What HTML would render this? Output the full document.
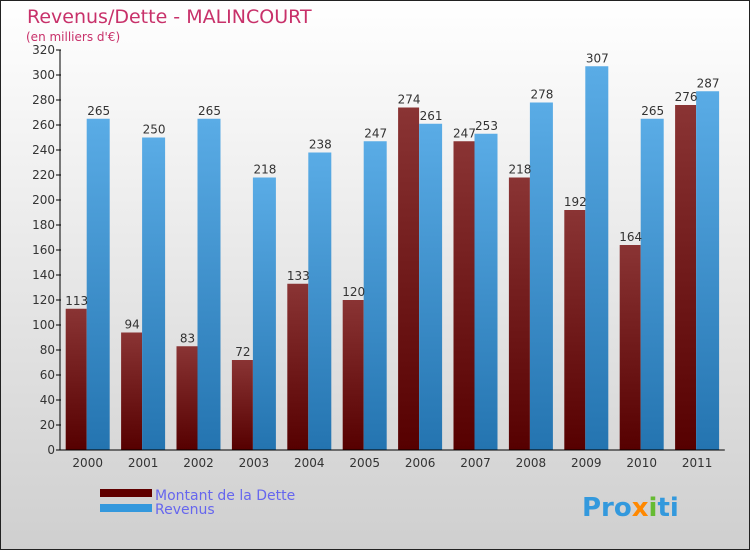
<!DOCTYPE html>
<html><head><meta charset="utf-8"><style>
body{margin:0;width:750px;height:550px;overflow:hidden}
svg{display:block;font-family:"DejaVu Sans","Liberation Sans",sans-serif}
</style></head><body>
<svg id="c" width="750" height="550">
<defs>
<linearGradient id="bg" x1="0" y1="0" x2="0" y2="1"><stop offset="0" stop-color="#ffffff"/><stop offset="1" stop-color="#cfcfcf"/></linearGradient>
<linearGradient id="gd" x1="0" y1="0" x2="0" y2="1"><stop offset="0" stop-color="#8a3434"/><stop offset="1" stop-color="#560000"/></linearGradient>
<linearGradient id="gr" x1="0" y1="0" x2="0" y2="1"><stop offset="0" stop-color="#5aace6"/><stop offset="1" stop-color="#2474b0"/></linearGradient>
</defs>
<rect x="0.5" y="0.5" width="749" height="549" fill="url(#bg)" stroke="#222"/>
<text x="27" y="23" font-size="19" fill="#c8316a">Revenus/Dette - MALINCOURT</text>
<text x="26" y="41" font-size="12" fill="#c8316a">(en milliers d'€)</text>
<g id="plot"></g>
<rect x="100" y="489" width="52" height="8" fill="#600000"/>
<rect x="100" y="504" width="52" height="8" fill="#3398dd"/>
<text x="155" y="500" font-size="14" fill="#6666ee">Montant de la Dette</text>
<text x="155" y="514" font-size="14" fill="#6666ee">Revenus</text>
<text x="582" y="516" font-size="26" font-weight="bold" fill="#3399dd">Pro<tspan fill="#ff8800">x</tspan><tspan fill="#66bb33">i</tspan>ti</text>
</svg>
<script>
const categories=["2000","2001","2002","2003","2004","2005","2006","2007","2008","2009","2010","2011"];
const detteValues=[113,94,83,72,133,120,274,247,218,192,164,276];
const revenusValues=[265,250,265,218,238,247,261,253,278,307,265,287];
const yTicks=[0,20,40,60,80,100,120,140,160,180,200,220,240,260,280,300,320];
const NS="http://www.w3.org/2000/svg";
const g=document.getElementById("plot");
const x0=60,step=55.4,y0=450,yMax=320,yTop=50;
function y(v){return y0-(v/yMax)*(y0-yTop);}
function xc(i){return x0+step*(i+0.5);}
function mk(t,a,txt){const e=document.createElementNS(NS,t);for(const k in a)e.setAttribute(k,a[k]);if(txt!==undefined)e.textContent=txt;g.appendChild(e);return e;}
yTicks.forEach(v=>{
 const l=mk("line",{x1:x0-4,x2:x0+1,y1:y(v),y2:y(v),stroke:"#000"});
 
 
 const t=mk("text",{x:x0-5,y:y(v)+4,"font-size":12,"text-anchor":"end",fill:"#333"},v);
 
 
});
categories.forEach((c,i)=>{
 const cx=xc(i);
 const d=detteValues[i],r=revenusValues[i];
 const b1=mk("rect",{x:cx-22,y:y(d),width:21,height:y0-y(d),fill:"url(#gd)"});
 
 
 const b2=mk("rect",{x:cx-1,y:y(r),width:23,height:y0-y(r),fill:"url(#gr)"});
 
 
 const t1=mk("text",{x:cx-11,y:y(d)-4,"font-size":12,"text-anchor":"middle",fill:"#333"},d);
 
 
 const t2=mk("text",{x:cx+11,y:y(r)-4,"font-size":12,"text-anchor":"middle",fill:"#333"},r);
 
 
 const tl=mk("text",{x:cx,y:467,"font-size":12,"text-anchor":"middle",fill:"#333"},c);
 
 
});
const ax=mk("line",{x1:x0,x2:x0,y1:yTop,y2:y0,stroke:"#000"});


const bx=mk("line",{x1:x0,x2:x0+step*12,y1:y0,y2:y0,stroke:"#000"});


</script>
</body></html>
